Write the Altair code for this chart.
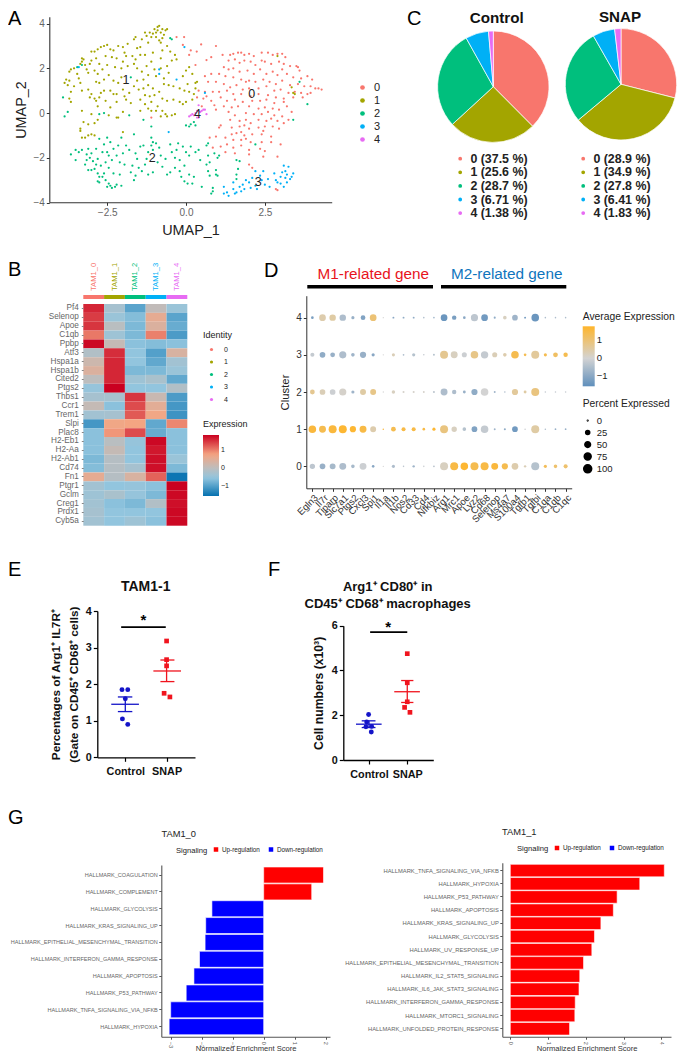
import altair as alt
import pandas as pd

W, H = 669, 1046
FONT = "Liberation Sans"
HUE = ["#F8766D", "#A3A500", "#00BF7D", "#00B0F6", "#E76BF3"]
IDS = ["0", "1", "2", "3", "4"]

# ---------- Panel A: UMAP coordinates (x, y) per cluster ----------
UMAP_0 = [(-0.3,3.4),(-0.06,3.4),(-0.1,3.05),(0.15,2.8),(0.48,3.07),(0.95,3.0),(0.34,2.75),(1.16,2.6),(0.65,2.37),(0.8,2.5),
(1.4,2.6),(1.5,2.65),(1.65,2.7),(1.75,2.7),(1.85,2.6),(2.0,2.65),(2.15,2.55),(2.4,2.7),(2.6,2.7),(2.75,2.6),(2.9,2.65),(3.05,2.65),(3.15,2.5),
(1.35,2.35),(1.55,2.4),(1.7,2.25),(1.85,2.35),(2.05,2.3),(2.2,2.15),(2.4,2.35),(2.5,2.3),(2.7,2.2),(2.95,2.3),(3.1,2.2),(3.3,2.1),(3.5,2.1),(3.55,2.05),(3.6,1.9),
(1.2,2.05),(1.35,1.95),(1.5,2.0),(1.7,1.85),(1.95,1.9),(2.15,1.75),(2.35,1.95),(2.55,1.75),(2.75,1.85),(2.9,1.7),(3.05,1.95),(3.2,1.75),(3.4,1.6),(3.65,1.55),(3.85,1.65),(4.0,1.5),
(1.05,1.75),(1.25,1.65),(1.5,1.6),(1.75,1.5),(1.9,1.4),(2.0,1.45),(2.2,1.4),(2.45,1.5),(2.65,1.4),(2.85,1.3),(3.05,1.45),(3.3,1.25),(3.55,1.3),(3.75,1.2),(3.95,1.2),(4.1,1.1),(4.2,1.1),(4.3,1.05),
(0.6,1.65),(0.8,1.75),(0.7,1.4),(0.95,1.4),(1.2,1.3),(1.4,1.15),(1.6,1.25),(1.8,1.05),(2.0,1.1),(2.3,1.1),(2.55,1.2),(2.8,1.0),(3.0,1.05),(3.25,0.9),(3.45,0.95),(3.65,0.9),(3.85,0.85),(3.95,0.9),
(0.4,1.0),(0.6,0.95),(0.85,0.95),(1.05,0.95),(1.3,1.0),(1.5,0.85),(1.75,0.85),(2.05,0.75),(2.3,0.85),(2.6,0.8),(2.85,0.7),(3.1,0.65),(3.4,0.7),(3.7,0.7),
(0.35,0.7),(0.55,0.65),(0.8,0.55),(1.1,0.7),(1.3,0.55),(1.55,0.6),(1.8,0.5),(2.1,0.55),(2.35,0.55),(2.55,0.6),(2.8,0.45),(3.1,0.5),
(0.9,0.35),(1.2,0.3),(1.45,0.25),(1.65,0.3),(2.0,0.3),(2.3,0.2),(2.5,0.25),(2.75,0.2),(2.95,0.15),(3.2,0.3),(3.35,0.05),
(1.35,0.05),(1.55,-0.1),(1.9,0.0),(2.15,-0.05),(2.4,-0.05),(2.6,0.05),(2.8,-0.1),(3.05,-0.15),(3.25,-0.3),
(1.4,-0.3),(1.7,-0.35),(1.9,-0.3),(2.05,-0.45),(2.3,-0.3),(2.55,-0.35),(2.7,-0.25),(2.9,-0.35),(3.1,-0.45),
(1.1,-0.55),(1.05,-0.65),(1.45,-0.65),(1.7,-0.6),(1.85,-0.55),(2.0,-0.7),(2.3,-0.65),(2.5,-0.6),(2.75,-0.6),(2.95,-0.7),
(1.45,-0.95),(1.6,-0.9),(1.75,-0.85),(1.85,-1.0),(2.1,-0.95),(2.4,-0.95),(2.45,-0.8),(2.7,-1.05),
(0.75,-1.1),(0.95,-1.05),(1.25,-1.1),(1.5,-1.2),(1.75,-1.2),(1.9,-1.15),(2.05,-1.3),(2.4,-1.3),(2.7,-1.3),(3.0,-1.4),
(0.85,-1.55),(1.1,-1.5),(1.3,-1.4),(1.5,-1.55),(1.75,-1.45),(2.0,-1.65),(2.35,-1.6),(2.5,-1.7),(1.25,-1.75),(1.55,-1.8),(2.0,-1.85),(2.45,-1.95),(2.9,-1.95),
(2.0,-2.3),(2.1,-2.45),(2.85,-3.4),(2.9,-3.45),(-1.1,-0.2),(0.5,0.3),(0.65,0.75),(0.95,0.15),(0.3,2.15),(0.1,2.6)]
UMAP_1 = [(-3.85,1.35),(-3.8,1.5),(-3.75,1.25),(-3.7,1.45),(-3.65,0.95),(-3.7,0.65),(-3.65,0.5),(-3.7,1.85),(-3.65,1.95),(-3.55,2.0),(-3.45,1.75),(-3.4,1.55),(-3.35,1.35),(-3.3,1.0),(-3.55,1.2),
(-3.35,2.2),(-3.3,2.3),(-3.3,2.45),(-3.25,2.4),(-3.2,2.15),(-3.15,1.95),(-3.1,1.8),(-3.05,2.2),(-3.0,2.35),(-3.0,2.75),(-2.9,2.75),(-2.85,2.45),(-2.75,2.2),(-2.9,1.9),(-2.8,1.75),(-2.65,1.95),(-2.5,2.15),
(-2.85,1.4),(-2.75,1.35),(-2.6,1.5),(-2.45,1.7),(-2.3,1.45),(-2.15,1.35),(-2.05,1.6),(-2.8,2.85),(-2.7,2.95),(-2.6,3.0),(-2.5,3.05),(-2.4,2.85),(-2.3,2.8),(-2.15,3.0),(-2.0,2.95),(-1.85,3.1),
(-2.55,2.55),(-2.35,2.5),(-2.2,2.45),(-2.0,2.3),(-2.05,2.0),(-1.85,2.1),(-2.25,2.05),(-1.9,2.55),(-1.95,2.7),(-1.7,2.55),(-1.65,2.2),(-1.55,2.9),(-1.45,2.95),
(-3.1,1.05),(-3.0,0.85),(-3.05,0.7),(-2.9,0.65),(-2.85,0.55),(-2.75,0.7),(-2.7,0.9),(-2.6,1.0),(-2.4,1.0),(-2.3,0.85),(-2.2,0.85),(-2.0,1.05),(-1.8,0.9),(-1.95,0.75),(-1.9,0.6),(-1.75,0.45),(-2.55,0.55),(-2.8,0.3),(-2.4,0.25),(-2.2,0.5),
(-2.45,-0.1),(-2.15,-0.2),(-2.2,-0.2),(-2.0,0.05),(-3.3,0.1),(-3.25,-0.4),(-3.0,-0.05),(-2.8,-0.3),(-2.9,-0.45),(-3.1,-0.5),(-3.35,-0.7),(-3.35,-0.8),(-3.3,-1.1),(-3.2,-1.1),(-3.1,-1.0),(-3.0,-0.95),(-2.9,-1.0),(-2.0,-0.85),
(-1.55,2.0),(-1.4,1.85),(-1.25,2.1),(-1.1,2.3),(-1.0,1.95),(-0.8,2.0),(-0.6,2.1),(-0.45,2.35),(-0.3,2.4),(-0.55,1.8),(-0.7,1.55),(-0.95,1.65),(-1.2,1.7),(-1.35,1.5),(-1.55,1.45),(-1.65,1.2),(-1.5,1.05),(-1.35,1.1),(-1.2,1.25),(-1.05,1.1),(-0.85,0.95),(-0.7,1.3),(-0.55,1.25),(-0.4,1.2),(-0.2,1.1),(-0.05,1.0),(0.1,0.95),(0.25,0.85),
(-1.3,0.8),(-1.15,0.75),(-1.0,0.8),(-0.75,0.65),(-0.6,0.55),(-0.4,0.6),(-0.2,0.5),(-0.1,0.4),(0.0,0.5),(-1.45,0.6),(-1.3,0.4),(-1.1,0.5),(-0.9,0.3),(-0.75,0.1),(-0.65,-0.05),(-0.6,-0.15),(-0.45,-0.1),(-0.35,-0.05),(-0.8,-0.15),(-0.95,0.1),(-1.1,0.1),(-1.2,0.2),(-1.45,0.1),
(-1.4,3.3),(-1.3,3.6),(-1.25,3.45),(-1.15,3.6),(-1.1,3.4),(-1.05,3.55),(-1.0,3.75),(-0.95,3.6),(-0.9,3.85),(-0.95,3.4),(-0.9,3.7),(-0.85,3.9),(-0.8,3.6),(-0.75,3.75),(-0.7,3.5),(-0.65,3.7),(-0.6,3.75),(-0.85,3.25),(-0.8,3.15),(-0.75,3.35),(-1.65,3.3),(-1.6,3.4),(-1.45,2.6),(-1.6,2.4),(-1.2,3.15),(-0.6,3.0),(-0.5,2.75),(-0.35,2.6),(-0.75,2.8),(-1.05,2.7),(-1.3,2.6),(-0.8,2.45),
(0.1,2.05),(0.0,1.9),(0.2,1.75),(0.3,1.35),(0.35,1.4),(0.05,1.3),(-0.1,1.65),(0.3,1.1),(0.2,0.6),(2.9,2.55),(3.35,1.15),(3.4,0.9),(3.45,0.85)]
UMAP_2 = [(-3.65,-1.85),(-3.5,-1.65),(-3.4,-1.75),(-3.5,-2.1),(-3.3,-1.65),(-3.15,-1.85),(-3.1,-1.6),(-3.05,-2.0),(-3.0,-1.8),(-2.85,-1.6),(-3.15,-2.1),(-2.95,-2.15),(-3.2,-2.3),(-3.1,-2.55),(-3.0,-2.55),(-2.85,-2.3),(-2.8,-2.05),(-2.7,-2.35),(-2.65,-1.75),(-2.6,-1.4),(-2.75,-1.15),(-2.5,-1.1),(-2.4,-1.3),(-2.3,-1.6),(-2.45,-1.9),(-2.55,-2.2),(-2.45,-2.45),(-2.35,-2.1),(-2.2,-1.9),(-2.15,-1.45),(-2.05,-1.1),(-1.9,-1.45),(-1.8,-1.65),(-1.95,-2.3),(-2.1,-2.2),
(-2.8,-2.7),(-2.75,-2.85),(-2.8,-3.05),(-2.75,-3.1),(-2.65,-2.85),(-2.6,-2.7),(-2.55,-3.0),(-2.45,-3.15),(-2.5,-3.3),(-2.4,-3.25),(-2.35,-3.35),(-2.25,-3.3),(-2.2,-3.2),(-2.1,-2.75),(-2.05,-3.25),(-1.65,-3.0),(-1.7,-2.35),(-1.75,-2.65),(-1.6,-2.8),(-1.5,-2.45),(-1.4,-2.6),(-1.55,-2.05),(-1.6,-1.8),(-1.45,-1.5),(-1.35,-1.45),(-1.2,-1.75),(-1.65,-0.95),(-1.3,-2.3),(-1.2,-2.75),(-1.05,-2.65),(-1.05,-1.65),(-1.1,-1.45),(-1.1,-1.1),(-1.05,-1.3),(-0.95,-1.35),(-0.85,-1.55),(-0.8,-1.9),(-0.9,-2.2),(-0.75,-2.4),(-0.65,-2.05),(-0.6,-2.75),(-0.5,-2.65),(-0.5,-1.4),(-0.45,-1.75),(-0.35,-2.0),(-0.3,-1.65),(-0.25,-1.35),(-0.2,-2.1),(-0.35,-2.45),(-0.2,-2.6),(-0.15,-2.85),(-0.05,-3.05),(0.05,-3.15),(0.2,-3.15),(0.25,-2.85),(0.1,-2.75),(-0.05,-2.35),(0.1,-1.9),(0.0,-1.75),(-0.1,-1.5),(0.15,-1.5),(0.3,-1.75),(0.4,-1.65),(0.45,-2.1),(0.5,-3.3),(0.7,-1.9),(0.65,-2.3),(0.75,-2.2),(0.7,-2.6),(0.75,-2.8),(0.65,-1.45),(0.7,-1.35),(0.9,-1.8),(1.0,-2.0),(0.95,-2.55),(0.95,-2.75),(1.0,-2.8),(1.05,-1.9),(0.85,-3.35),(0.85,-3.5),(0.8,-3.6),(1.6,-2.1),(1.7,-2.15),(1.65,-2.5),(1.6,-2.75),(1.6,-2.95),(2.2,-1.4),
(0.0,-0.55),(0.1,-0.6),(0.15,-0.5),(0.25,-0.4),(0.3,-0.55),(-3.9,0.7),(-3.85,-0.15),(-3.75,0.05),(-3.3,2.15),(-3.45,2.05),(-0.5,3.35),(-0.45,3.3),(-1.35,-0.3),(-1.1,-0.6),(-2.6,0.0),(-2.75,-0.05),(-1.75,1.6),(3.6,1.4),(3.85,0.4),(3.4,-0.3),(-1.8,-0.1),(-2.5,-1.75),(-2.9,-2.5),(-2.3,-2.7),(-2.0,-1.8),(-1.25,-2.05)]
UMAP_3 = [(1.2,-3.3),(1.2,-3.6),(1.3,-3.55),(1.35,-3.7),(1.5,-3.4),(1.55,-3.6),(1.6,-3.55),(1.7,-3.3),(1.75,-3.5),(1.8,-3.2),(1.85,-3.4),(1.9,-3.0),(2.0,-3.1),(2.05,-3.35),(2.1,-2.9),(2.2,-3.25),(2.25,-3.4),(2.35,-2.8),(2.4,-3.0),(2.45,-2.6),(2.5,-3.2),(2.6,-2.95),(2.65,-3.3),(2.8,-2.7),(2.85,-3.0),(2.9,-3.1),(3.0,-2.85),(3.0,-3.15),(3.05,-2.65),(3.1,-2.35),(3.15,-2.6),(3.2,-2.75),(3.15,-2.9),(3.25,-2.4),(3.3,-2.95),(3.4,-2.7),(3.35,-2.85),(3.2,-3.1),(3.1,-3.3),(2.2,-2.6),(1.5,-3.1),(-0.85,1.95),(-0.85,1.75),(-3.4,2.05),(-0.3,1.5),(-0.55,-0.85),(-0.05,2.95),(0.6,0.9)]
UMAP_4 = [(0.1,-0.15),(0.15,-0.1),(0.2,-0.05),(0.3,0.0),(0.35,0.1),(0.4,0.35),(0.45,0.05),(0.5,0.1),(0.55,0.15),(0.6,0.15),(0.65,-0.05),(0.4,-0.2),(0.35,-0.2),(0.25,-0.1)]
UMAP_LABELS = [("0",2.08,0.85),("1",-1.9,1.5),("2",-1.07,-2.02),("3",2.29,-3.06),("4",0.36,-0.06)]

# ---------- Panel B: heatmap ----------
HEAT_COLS = ["TAM1_0", "TAM1_1", "TAM1_2", "TAM1_3", "TAM1_4"]
HEAT_GENES = ["Pf4","Selenop","Apoe","C1qb","Ppbp","Atf3","Hspa1a","Hspa1b","Cited2","Ptgs2","Thbs1","Ccr1","Trem1","Slpi","Plac8","H2-Eb1","H2-Aa","H2-Ab1","Cd74","Fn1","Ptgr1","Gclm","Creg1","Prdx1","Cyb5a"]
HEAT_VALUES = [
[1.6,-0.3,-0.95,0.05,-0.45],[1.45,-0.45,-0.65,0.55,-0.95],[1.5,-0.05,-0.7,0.4,-0.85],[1.05,-0.4,-0.7,1.0,-1.05],[1.8,0.1,-0.6,-0.65,-0.6],
[-0.15,1.55,-0.55,-1.0,0.35],[0.2,1.6,-0.55,-0.9,-0.35],[0.4,1.6,-0.7,-0.7,-0.45],[0.0,1.6,-0.4,-0.25,-0.9],[-0.5,1.85,-0.55,-0.55,-0.15],
[-0.3,-0.3,1.5,0.15,-1.05],[0.1,-0.6,1.35,0.5,-1.1],[-0.35,-0.3,1.25,0.7,-1.15],[-1.1,0.7,0.75,-0.9,0.95],[-0.6,0.85,1.35,-0.85,-0.6],
[-0.6,-0.05,-0.5,1.8,-0.6],[-0.6,0.1,-0.55,1.7,-0.6],[-0.7,-0.1,-0.55,1.75,-0.45],[-0.65,-0.1,-0.3,1.75,-0.7],[0.55,-0.1,0.35,1.2,-1.5],
[-0.35,-0.55,-0.5,-0.6,1.85],[-0.4,-0.25,-0.5,-0.7,1.8],[-0.35,-0.6,-0.7,-0.15,1.75],[-0.3,-0.55,-0.55,-0.55,1.8],[-0.35,-0.55,-0.4,-0.6,1.8]]

# ---------- Panel C: pies ----------
PIE_CONTROL = [37.5, 25.6, 28.7, 6.71, 1.38]
PIE_SNAP = [28.9, 34.9, 27.8, 6.41, 1.83]

# ---------- Panel D: dot plot (average expression, percent expressed) ----------
DOT_GENES = ["Egln3","Il7r","Tiparp","Slc7a1","Ptgs2","Cxcl3","Spi1","Il1a","Il1b","Nos2","Cd33","Cd4","Nfkbiz","Arg1","Mrc1","Apoe","Lyz2","Cd68","Selenop","Ms4a7","S100a4","Tgfb1","Tgfbi","C1qa","C1qb","C1qc"]
DOT_4 = [(-1.2,10),(0.4,70),(0.5,65),(-0.5,65),(-0.8,15),(-1.1,35),(1.0,70),(0,2),(-1,5),(-0.9,5),(-0.9,5),(-0.5,3),(-0.8,3),(-1.4,70),(-1.2,30),(-1,10),(-0.3,80),(-1.3,70),(-0.9,6),(0.2,20),(-0.7,50),(-1.3,5),(-1.4,90),(-0.5,3),(-0.5,3),(-0.5,3)]
DOT_3 = [(-0.2,25),(-0.9,50),(-0.8,35),(-0.5,80),(-0.7,20),(-0.8,60),(-1.0,15),(0,2),(0.3,15),(-0.5,4),(-0.4,15),(-0.2,3),(-0.4,5),(0.7,100),(0.2,75),(-0.1,40),(0.8,90),(-0.2,85),(0.3,40),(0.4,20),(1.4,90),(1.4,10),(0.6,100),(1.4,15),(1.2,35),(1.4,30)]
DOT_2 = [(0.7,35),(0.3,50),(-0.1,50),(0.1,80),(-0.7,15),(0.5,55),(0.8,55),(0,2),(0.2,18),(0.1,6),(0.1,6),(0.1,5),(-0.3,6),(-0.5,75),(-0.5,30),(-0.8,12),(-0.9,60),(0,90),(-0.7,5),(-0.5,3),(0.6,60),(0.5,12),(0.9,100),(-0.2,3),(-0.2,3),(-0.2,3)]
DOT_1 = [(1.6,90),(1.4,75),(1.6,100),(1.7,100),(1.7,60),(1.5,75),(0.4,55),(1.5,3),(1.4,35),(1.5,25),(1.5,25),(1.5,10),(1.7,15),(0.9,100),(0.2,45),(-0.4,20),(-1.1,50),(-0.2,90),(-0.7,5),(-0.9,6),(-1.3,50),(-0.1,3),(0.5,100),(-0.5,3),(-0.8,4),(-0.8,4)]
DOT_0 = [(-0.3,45),(-0.8,50),(-0.6,55),(-0.5,75),(-0.6,20),(-0.1,75),(-1.0,10),(0,2),(-0.5,15),(-0.3,3),(-0.7,8),(-0.1,3),(-0.3,5),(0.2,100),(1.5,100),(1.7,90),(1.4,100),(1.5,100),(1.6,75),(1.4,60),(0.4,70),(0.3,8),(-0.4,100),(1.3,15),(1.1,20),(1.1,25)]

# ---------- Panels E and F ----------
E_CONTROL = [(0.92,1.85),(1.06,1.85),(1.0,1.6),(0.93,1.05),(1.06,0.9)]
E_SNAP = [(2.0,3.18),(2.0,2.67),(2.0,2.5),(1.94,1.75),(2.08,1.65)]
# group, x1, x2, y1, y2
E_ERR = [("Control",0.66,1.33,1.45,1.45),("Control",0.82,1.17,1.65,1.65),("Control",0.82,1.17,1.25,1.25),("Control",1.0,1.0,1.25,1.65),
         ("SNAP",1.68,2.35,2.36,2.36),("SNAP",1.85,2.19,2.66,2.66),("SNAP",1.85,2.19,2.07,2.07),("SNAP",2.0,2.0,2.07,2.66)]
E_SIG = [(0.90,1.98,3.56)]
E_STAR = [(1.44,3.76)]
F_CONTROL = [(0.99,2.03),(0.94,1.7),(1.07,1.5),(0.92,1.48),(1.06,1.25)]
F_SNAP = [(2.0,4.75),(2.0,3.45),(2.0,2.6),(1.93,2.35),(2.07,2.13)]
F_ERR = [("Control",0.66,1.33,1.6,1.6),("Control",0.81,1.17,1.75,1.75),("Control",0.81,1.17,1.45,1.45),("Control",1.0,1.0,1.45,1.75),
         ("SNAP",1.66,2.33,3.05,3.05),("SNAP",1.84,2.16,3.55,3.55),("SNAP",1.84,2.16,2.57,2.57),("SNAP",2.0,2.0,2.57,3.55)]
F_SIG = [(1.03,2.0,5.71)]
F_STAR = [(1.5,5.95)]

# ---------- Panel G ----------
G0_TERMS = ["HALLMARK_COAGULATION","HALLMARK_COMPLEMENT","HALLMARK_GLYCOLYSIS","HALLMARK_KRAS_SIGNALING_UP","HALLMARK_EPITHELIAL_MESENCHYMAL_TRANSITION","HALLMARK_INTERFERON_GAMMA_RESPONSE","HALLMARK_APOPTOSIS","HALLMARK_P53_PATHWAY","HALLMARK_TNFA_SIGNALING_VIA_NFKB","HALLMARK_HYPOXIA"]
G0_NES = [1.93,1.55,-1.67,-1.87,-1.89,-2.07,-2.25,-2.5,-3.0,-3.05]
G1_TERMS = ["HALLMARK_TNFA_SIGNALING_VIA_NFKB","HALLMARK_HYPOXIA","HALLMARK_P53_PATHWAY","HALLMARK_APOPTOSIS","HALLMARK_KRAS_SIGNALING_UP","HALLMARK_GLYCOLYSIS","HALLMARK_UV_RESPONSE_UP","HALLMARK_EPITHELIAL_MESENCHYMAL_TRANSITION","HALLMARK_IL2_STAT5_SIGNALING","HALLMARK_IL6_JAK_STAT3_SIGNALING","HALLMARK_INTERFERON_GAMMA_RESPONSE","HALLMARK_MTORC1_SIGNALING","HALLMARK_UNFOLDED_PROTEIN_RESPONSE"]
G1_NES = [4.08,3.43,2.83,2.73,2.40,2.23,2.16,1.94,1.84,1.82,1.72,1.71,1.57]
G_BOTTOM = 1036.7

# ---------- free-standing text: string, page x, page y, size, weight, colour, align, angle ----------
TEXTS = [
 ("A",8,19,20,"normal","#000","left",0),("C",407,19,20,"normal","#000","left",0),("B",8,270,20,"normal","#000","left",0),
 ("D",264,271,20,"normal","#000","left",0),("E",8,570,20,"normal","#000","left",0),("F",268,570,20,"normal","#000","left",0),("G",8,818,20,"normal","#000","left",0),
 ("Control",496.7,17.5,15.2,"bold","#111","center",0),("SNAP",620,17,15.2,"bold","#111","center",0),
 ("M1-related gene",373.3,273.5,15.3,"normal","#E8141C","center",0),("M2-related gene",506.7,273.5,15.3,"normal","#0F75BD","center",0),
 ("TAM1-1",145.7,587,14,"bold","#111","center",0),("Arg1\u207a CD80\u207a in",387.7,587,13,"bold","#111","center",0),
 ("CD45\u207a CD68\u207a macrophages",387.7,604,13,"bold","#111","center",0),
 ("TAM1_0",178.7,833.7,9.3,"normal","#222","center",0),("TAM1_1",519.3,832,9.3,"normal","#222","center",0),
]
# page x1, page x2, page y of the two heavy header rules in panel D
HEADER_RULES = [(307.3,433,286.7),(441,566.3,286.7)]

def px(v): return v - 8

def axis_x(page_y, **kw):
    o = dict(orient="bottom", offset=page_y - 8 - H, grid=False, labelFlush=False)
    o.update(kw)
    return alt.Axis(**o)

def axis_y(page_x, **kw):
    o = dict(orient="left", offset=-(page_x - 8), grid=False, labelFlush=False)
    o.update(kw)
    return alt.Axis(**o)

def qs(domain, r0, r1):
    return alt.Scale(domain=domain, range=[px(r0), px(r1)], nice=False, zero=False)

layers = []

# ===== A =====
rows = []
for cid, pts in zip(IDS, [UMAP_0, UMAP_1, UMAP_2, UMAP_3, UMAP_4]):
    rows += [{"x": a, "y": b, "c": cid} for a, b in pts]
A_X = qs([-4.335, 4.62], 49.3, 331.7)
A_Y = qs([-3.99, 4.31], 202.3, 16.7)
grey_ax = dict(domainColor="#333", domainWidth=1.1, tickColor="#333", tickSize=3, labelColor="#666", labelFontSize=10, titleColor="#222", titleFontSize=14.4, titleFontWeight="normal")
layers.append(alt.Chart(pd.DataFrame(rows)).mark_circle(size=5, opacity=1).encode(
    x=alt.X("x:Q", scale=A_X, axis=axis_x(202.3, title="UMAP_1", values=[-2.5,0,2.5], format=".1f", titlePadding=6, **grey_ax)),
    y=alt.Y("y:Q", scale=A_Y, axis=axis_y(49.3, title="UMAP_2", values=[-4,-2,0,2,4], titlePadding=4, **grey_ax)),
    color=alt.Color("c:N", scale=alt.Scale(domain=IDS, range=HUE),
                    legend=alt.Legend(orient="none", legendX=px(357), legendY=px(82), title=None, labelFontSize=11, labelColor="#222", symbolSize=22, symbolType="circle", rowPadding=1, labelOffset=6, padding=0)),
))
layers.append(alt.Chart(pd.DataFrame(UMAP_LABELS, columns=["t","x","y"])).mark_text(fontSize=12.5, color="#222").encode(
    x=alt.X("x:Q", scale=A_X, axis=None), y=alt.Y("y:Q", scale=A_Y, axis=None), text="t:N"))

# ===== B =====
rows = [{"gene": g, "col": c, "v": v} for g, vals in zip(HEAT_GENES, HEAT_VALUES) for c, v in zip(HEAT_COLS, vals)]
B_X = alt.Scale(type="band", domain=HEAT_COLS, range=[px(83.3), px(187.3)], paddingInner=0, paddingOuter=0)
B_Y = alt.Scale(type="band", domain=HEAT_GENES, range=[px(304), px(525.7)], paddingInner=0, paddingOuter=0)
layers.append(alt.Chart(pd.DataFrame(rows)).mark_rect().encode(
    x=alt.X("col:N", scale=B_X, axis=None),
    y=alt.Y("gene:N", scale=B_Y, axis=axis_y(83.3, title=None, domain=False, tickColor="#888", tickSize=2, labelColor="#666", labelFontSize=8.2, labelPadding=3)),
    color=alt.Color("v:Q", scale=alt.Scale(domain=[-1.56,-0.55,0,0.75,1.85], range=["#0571B0","#92C5DE","#BDBDBD","#F4A582","#CA0020"], interpolate="rgb"),
                    legend=alt.Legend(orient="none", legendX=px(203), legendY=px(420), title="Expression", titleFontSize=9, titleFontWeight="normal", titleColor="#222", titlePadding=6, gradientLength=61, gradientThickness=16, values=[-1,0,1], labelFontSize=7, labelColor="#222", tickCount=3, padding=0)),
))
idf = pd.DataFrame({"col": HEAT_COLS, "id": IDS})
layers.append(alt.Chart(idf).mark_rect().encode(
    x=alt.X("col:N", scale=B_X, axis=None), y=alt.value(px(295)), y2=alt.value(px(299)),
    color=alt.Color("id:N", scale=alt.Scale(domain=IDS, range=HUE),
                    legend=alt.Legend(orient="none", legendX=px(203), legendY=px(331), title="Identity", titleFontSize=9, titleFontWeight="normal", titleColor="#222", titlePadding=6, labelFontSize=7, labelColor="#222", symbolSize=10, symbolType="circle", symbolOffset=5, rowPadding=4.5, labelOffset=9, padding=0)),
))
layers.append(alt.Chart(idf).mark_text(angle=270, align="left", baseline="middle", fontSize=7.6).encode(
    x=alt.X("col:N", scale=B_X, axis=None), y=alt.value(px(291)), text="col:N",
    color=alt.Color("id:N", scale=alt.Scale(domain=IDS, range=HUE), legend=None),
))

# ===== C =====
def pie(vals, cx, cy, leg_x):
    labels = [f"{i} ({v:g} %)" if v < 10 else f"{i} ({v:.1f} %)" for i, v in zip(IDS, vals)]
    d = pd.DataFrame({"v": vals, "lab": labels, "i": range(5)})
    return alt.Chart(d).mark_arc(radius=55.7, stroke="white", strokeWidth=0.7).encode(
        x=alt.value(px(cx)), y=alt.value(px(cy)),
        theta=alt.Theta("v:Q", stack=True),
        order=alt.Order("i:Q"),
        color=alt.Color("lab:N", scale=alt.Scale(domain=labels, range=HUE),
                        legend=alt.Legend(orient="none", legendX=px(leg_x), legendY=px(152.5), title=None, labelFontSize=12.4, labelFontWeight="bold", labelColor="#222", symbolSize=28, symbolType="circle", rowPadding=0.6, labelOffset=4, labelLimit=120, padding=0)),
    )
layers.append(pie(PIE_CONTROL, 493.3, 86.7, 454))
layers.append(pie(PIE_SNAP, 621, 84.3, 577))

# ===== D =====
rows = []
for cl, dots in zip(["4","3","2","1","0"], [DOT_4, DOT_3, DOT_2, DOT_1, DOT_0]):
    rows += [{"gene": g, "cluster": cl, "avg": a, "pct": p} for g, (a, p) in zip(DOT_GENES, dots)]
D_X = alt.Scale(type="point", domain=DOT_GENES, range=[px(306.3), px(571.7)], padding=0.6)
D_Y = alt.Scale(type="point", domain=["4","3","2","1","0"], range=[px(295.7), px(488.3)], padding=0.59)
layers.append(alt.Chart(pd.DataFrame(rows)).mark_circle(opacity=1).encode(
    x=alt.X("gene:N", scale=D_X, axis=axis_x(488.3, title=None, labelAngle=-45, labelAlign="right", labelBaseline="top", labelFontSize=9.6, labelColor="#333", domainColor="#333", tickColor="#333", tickSize=3, labelPadding=1, labelOverlap=False)),
    y=alt.Y("cluster:N", scale=D_Y, axis=axis_y(306.3, title="Cluster", labelAngle=0, labelFontSize=10, labelColor="#333", domainColor="#333", tickColor="#333", tickSize=3, titleFontSize=11.3, titleFontWeight="normal", titleColor="#222", titlePadding=5)),
    color=alt.Color("avg:Q", scale=alt.Scale(domain=[-1.56,0,1.79], range=["#5F8FBC","#D3D3D3","#FFB52B"], interpolate="rgb"),
                    legend=alt.Legend(orient="none", legendX=px(582.7), legendY=px(312), title="Average Expression", titleFontSize=10.3, titleFontWeight="normal", titleColor="#222", titlePadding=4, titleLimit=130, gradientLength=60, gradientThickness=12, values=[-1,0,1], labelFontSize=9.5, labelColor="#222", padding=0)),
    size=alt.Size("pct:Q", scale=alt.Scale(domain=[0,100], range=[0.5,64]),
                  legend=alt.Legend(orient="none", legendX=px(582.7), legendY=px(398.5), title="Percent Expressed", titleFontSize=10.3, titleFontWeight="normal", titleColor="#222", titlePadding=7, titleLimit=130, values=[0,25,50,75,100], labelFontSize=9.5, labelColor="#222", symbolFillColor="black", symbolStrokeColor="black", symbolType="circle", gridAlign="all", rowPadding=-2, padding=0)),
))
for a, b, y in HEADER_RULES:
    layers.append(alt.Chart(pd.DataFrame({"k":[0]})).mark_rule(strokeWidth=3.5, color="black").encode(
        x=alt.value(px(a)), x2=alt.value(px(b)), y=alt.value(px(y))))

# ===== E, F =====
def scatter_panel(ctrl, snap, err, sig, star, xr, xd, yr, yd, yvals, ytitle, title_pad, title_size):
    out = []
    sx = qs(xd, *xr); sy = qs(yd, *yr)
    ax = dict(domainColor="#000", domainWidth=1.3, tickColor="#000", tickWidth=1.2, tickSize=4, labelColor="#111", labelFontWeight="bold", labelFontSize=10.8)
    d = pd.DataFrame(ctrl, columns=["x","y"])
    out.append(alt.Chart(d).mark_circle(size=24, opacity=1, color="#1414C8").encode(
        x=alt.X("x:Q", scale=sx, axis=axis_x(yr[0], title=None, values=[1,2], labelExpr="datum.value==1?'Control':'SNAP'", labelPadding=4, **ax)),
        y=alt.Y("y:Q", scale=sy, axis=axis_y(xr[0], title=ytitle, values=yvals, titleFontSize=title_size, titleFontWeight="bold", titleColor="#111", titlePadding=title_pad, titleLineHeight=18, **ax))))
    d = pd.DataFrame(snap, columns=["x","y"])
    out.append(alt.Chart(d).mark_square(size=22, opacity=1, color="#F0141E").encode(
        x=alt.X("x:Q", scale=sx, axis=None), y=alt.Y("y:Q", scale=sy, axis=None)))
    d = pd.DataFrame(err, columns=["g","x","x2","y","y2"])
    out.append(alt.Chart(d).mark_rule(strokeWidth=1.3).encode(
        x=alt.X("x:Q", scale=sx, axis=None), x2="x2:Q", y=alt.Y("y:Q", scale=sy, axis=None), y2="y2:Q",
        color=alt.Color("g:N", scale=alt.Scale(domain=["Control","SNAP"], range=["#1414C8","#F0141E"]), legend=None)))
    d = pd.DataFrame(sig, columns=["x","x2","y"])
    out.append(alt.Chart(d).mark_rule(strokeWidth=1.8, color="black").encode(
        x=alt.X("x:Q", scale=sx, axis=None), x2="x2:Q", y=alt.Y("y:Q", scale=sy, axis=None)))
    d = pd.DataFrame(star, columns=["x","y"]).assign(t="*")
    out.append(alt.Chart(d).mark_text(fontSize=15, fontWeight="bold", color="black", baseline="middle").encode(
        x=alt.X("x:Q", scale=sx, axis=None), y=alt.Y("y:Q", scale=sy, axis=None), text="t:N"))
    return out

layers += scatter_panel(E_CONTROL, E_SNAP, E_ERR, E_SIG, E_STAR, (97.3,195), [0.322,2.688], (757.3,611), [0,4], [0,1,2,3,4],
                        ["Percentages of Arg1\u207a IL7R\u207a", "(Gate on CD45\u207a CD68\u207a cells)"], 6, 11.8)
layers += scatter_panel(F_CONTROL, F_SNAP, F_ERR, F_SIG, F_STAR, (343.3,433.3), [0.329,2.68], (760,625.7), [0,6], [0,2,4,6],
                        "Cell numbers (x10\u00b3)", 6, 12.2)

# ===== G =====
SIGN = ["Up-regulation", "Down-regulation"]
def gsea(terms, nes, xr, xd, ticks, ytop, ax_x, leg_x, leg_y, pad_outer, lab, tpad):
    d = pd.DataFrame({"term": terms, "nes": nes, "sig": [SIGN[0] if v > 0 else SIGN[1] for v in nes]})
    ax = dict(domainColor="#555", tickColor="#555", domainWidth=1.1, tickSize=2.5)
    return alt.Chart(d).mark_bar(stroke="white", strokeWidth=0.6).encode(
        x=alt.X("nes:Q", scale=qs(xd, *xr), axis=axis_x(G_BOTTOM, title="Normalized Enrichment Score", values=ticks, labelAngle=90, labelAlign="left", labelBaseline="middle", labelFontSize=5.5, labelColor="#555", titleFontSize=7.6, titleFontWeight="normal", titleColor="#333", titlePadding=tpad, **ax)),
        y=alt.Y("term:N", scale=alt.Scale(type="band", domain=terms, range=[px(ytop), px(G_BOTTOM)], paddingInner=0.05, paddingOuter=pad_outer),
                axis=axis_y(ax_x, title=None, labelFontSize=lab, labelColor="#666", labelLimit=200, labelPadding=1.5, **ax)),
        color=alt.Color("sig:N", scale=alt.Scale(domain=SIGN, range=["#FF0000","#0000FF"]),
                        legend=alt.Legend(orient="none", legendX=px(leg_x), legendY=px(leg_y), direction="horizontal", columns=2, title="Signaling", titleOrient="left", titleFontSize=7.6, titleFontWeight="normal", titleColor="#222", titlePadding=4, labelFontSize=6.3, labelColor="#222", symbolType="square", symbolSize=36, columnPadding=5, labelOffset=2, labelLimit=80, padding=0)),
    )
layers.append(gsea(G0_TERMS, G0_NES, (161.3,330), [-3.303,2.14], [-3,-2,-1,0,1,2], 865, 161.3, 176, 845.5, 0.12, 5.55, -3))
layers.append(gsea(G1_TERMS, G1_NES, (502.3,671), [-0.212,4.257], [0,1,2,3,4], 862.7, 502.3, 517, 844, 0.125, 5.8, 0))

# ===== text =====
for t, x, y, size, weight, col, align, ang in TEXTS:
    layers.append(alt.Chart(pd.DataFrame({"t":[t]})).mark_text(fontSize=size, fontWeight=weight, color=col, align=align, baseline="middle", angle=ang).encode(
        x=alt.value(px(x)), y=alt.value(px(y)), text="t:N"))

chart = alt.layer(*layers).resolve_scale(
    x="independent", y="independent", color="independent", size="independent", theta="independent"
).properties(width=W, height=H, autosize=alt.AutoSizeParams(type="none"), padding=0
).configure(font=FONT).configure_view(stroke=None)

chart.save("out.html", embed_options={"renderer": "svg", "actions": False})
